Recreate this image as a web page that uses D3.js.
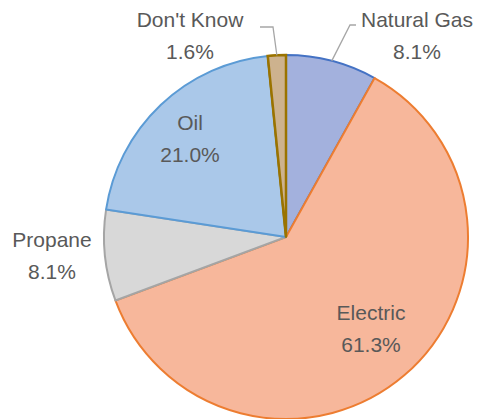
<!DOCTYPE html>
<html>
<head>
<meta charset="utf-8">
<script src="https://cdn.jsdelivr.net/npm/d3@7"></script>
<style>
  html, body { margin: 0; padding: 0; background: #fff; }
</style>
</head>
<body>
<div id="chart"></div>
<script>
// heating fuel share pie
const categories = ["Natural Gas", "Electric", "Propane", "Oil", "Don't Know"];
const values = [8.1, 61.3, 8.1, 21.0, 1.6];
const fills = ["#A3B1DD", "#F7B79B", "#D8D8D8", "#AAC8E9", "#CDB28E"];
const strokes = ["#4472C4", "#ED7D31", "#A5A5A5", "#5B9BD5", "#9A7300"];

const W = 485, H = 419;
const cx = 286, cy = 237, R = 182;

const svg = d3.select("#chart").append("svg")
  .attr("width", W)
  .attr("height", H);

const pie = d3.pie().sort(null).value(d => d)(values);
const arc = d3.arc().innerRadius(0).outerRadius(R);

const g = svg.append("g").attr("transform", `translate(${cx},${cy})`);

g.selectAll("path.slice")
  .data(pie)
  .join("path")
  .attr("class", "slice")
  .attr("d", arc)
  .attr("fill", (d, i) => fills[i])
  .attr("stroke", (d, i) => strokes[i])
  .attr("stroke-width", 2)
  .attr("stroke-linejoin", "round");

// redraw the small slice on top so its outline is visible
g.append("path")
  .attr("d", arc(pie[4]))
  .attr("fill", fills[4])
  .attr("stroke", strokes[4])
  .attr("stroke-width", 2.5);

// label position (center x, first baseline) relative to pie center
const labelPos = [
  [131, -210],  // Natural Gas (outside)
  [85, 83],     // Electric
  [-234, 10],   // Propane (outside)
  [-96, -107],  // Oil
  [-96, -210]   // Don't Know (outside)
];

// leader lines for outside labels that are moved
function outerPoint(d) {
  const a = (d.startAngle + d.endAngle) / 2;
  return [R * Math.sin(a), -R * Math.cos(a)];
}
const leaders = {
  0: p => [p, [64, -212], [70, -212]],
  4: p => [p, [-13, -210], [-26, -210]]
};
Object.keys(leaders).forEach(k => {
  const i = +k;
  const pts = leaders[i](outerPoint(pie[i]));
  g.append("path")
    .attr("d", d3.line()(pts))
    .attr("fill", "none")
    .attr("stroke", "#A6A6A6")
    .attr("stroke-width", 1.3);
});

const font = "'Liberation Sans', Arial, sans-serif";
pie.forEach((d, i) => {
  const [lx, ly] = labelPos[i];
  const t = g.append("text")
    .attr("x", lx)
    .attr("y", ly)
    .attr("text-anchor", "middle")
    .attr("font-family", font)
    .attr("font-size", 21)
    .attr("fill", "#595959");
  t.append("tspan").attr("x", lx).attr("dy", 0).text(categories[i]);
  t.append("tspan").attr("x", lx).attr("dy", 32).text(values[i].toFixed(1) + "%");
});
</script>
</body>
</html>
